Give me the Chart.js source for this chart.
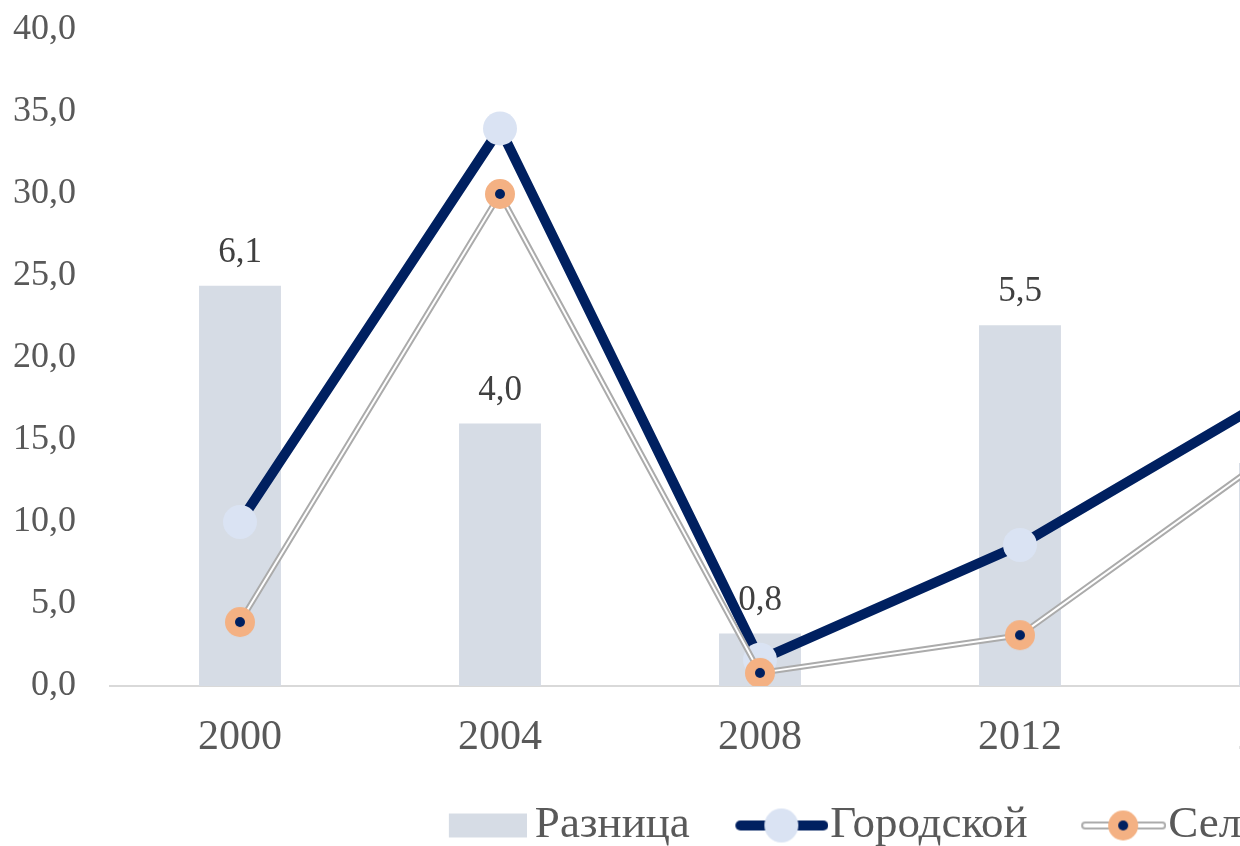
<!DOCTYPE html>
<html>
<head>
<meta charset="utf-8">
<script src="https://cdn.jsdelivr.net/npm/chart.js@4.4.1/dist/chart.umd.min.js"></script>
<style>
  html, body { margin: 0; padding: 0; background: #fff; }
  #wrap { width: 1240px; height: 846px; overflow: hidden; position: relative; }
  #c { position: absolute; left: 0; top: 0; }
</style>
</head>
<body>
<div id="wrap"><canvas id="c" width="1784" height="858"></canvas></div>
<script>
// data
const years = ['2000', '2004', '2008', '2012', '2016'];
const urban = [10.0, 34.0, 1.6, 8.6, 17.9];     // Городской
const rural = [3.9, 30.0, 0.8, 3.1, 14.5];      // Сельский
const diff = [6.1, 4.0, 0.8, 5.5, 3.4];         // Разница
const yTicks = [0, 5, 10, 15, 20, 25, 30, 35, 40];

const NAVY = '#002060', LIGHT = '#dae3f3', PEACH = '#f4b183', BAR = '#d6dce5', GREY = '#ababab';

Chart.defaults.font.family = '"Liberation Serif", "Times New Roman", serif';

function makeCanvas(w, h, draw) {
  const cv = document.createElement('canvas');
  cv.width = w; cv.height = h;
  draw(cv.getContext('2d'));
  return cv;
}

// orange marker with a navy dot in the middle
const ruralDot = makeCanvas(32, 32, (g) => {
  g.fillStyle = PEACH; g.beginPath(); g.arc(16, 16, 15, 0, Math.PI * 2); g.fill();
  g.fillStyle = NAVY; g.beginPath(); g.arc(16, 16, 5, 0, Math.PI * 2); g.fill();
});

// legend swatches (transparent margin on the left so the text sits close)
const legBar = makeCanvas(109, 26, (g) => { g.fillStyle = BAR; g.fillRect(31, 1, 78, 24); });
const legUrban = makeCanvas(121, 36, (g) => {
  g.strokeStyle = NAVY; g.lineWidth = 10; g.lineCap = 'round';
  g.beginPath(); g.moveTo(33, 18); g.lineTo(116, 18); g.stroke();
  g.fillStyle = LIGHT; g.beginPath(); g.arc(74, 18, 17, 0, Math.PI * 2); g.fill();
});
const legRural = makeCanvas(121, 32, (g) => {
  g.lineCap = 'round';
  g.strokeStyle = GREY; g.lineWidth = 8;
  g.beginPath(); g.moveTo(40, 16); g.lineTo(117, 16); g.stroke();
  g.strokeStyle = '#fff'; g.lineWidth = 4;
  g.beginPath(); g.moveTo(40, 16); g.lineTo(117, 16); g.stroke();
  g.drawImage(ruralDot, 78 - 16, 0);
});

const fmt = (v) => v.toFixed(1).replace('.', ',');

const barLabels = {
  id: 'barLabels',
  afterDatasetsDraw(chart) {
    const meta = chart.getDatasetMeta(4);
    const ctx = chart.ctx;
    ctx.save();
    ctx.font = '35px "Liberation Serif", serif';
    ctx.fillStyle = '#404040';
    ctx.textAlign = 'center';
    ctx.textBaseline = 'alphabetic';
    meta.data.forEach((el, i) => {
      ctx.fillText(fmt(diff[i]), el.x, el.y - 24);
    });
    ctx.restore();
  }
};

new Chart(document.getElementById('c'), {
  type: 'bar',
  data: {
    labels: years,
    datasets: [
      { type: 'line', label: 'Сельский', data: rural, showLine: false, yAxisID: 'y',
        pointStyle: ruralDot, pointRadius: 15 },
      { type: 'line', label: 'Сельский-inner', data: rural, yAxisID: 'y',
        borderColor: '#ffffff', borderWidth: 2, pointRadius: 0, borderJoinStyle: 'round' },
      { type: 'line', label: 'Сельский-outer', data: rural, yAxisID: 'y',
        borderColor: GREY, borderWidth: 6, pointRadius: 0, borderJoinStyle: 'round' },
      { type: 'line', label: 'Городской', data: urban, yAxisID: 'y',
        borderColor: NAVY, borderWidth: 10, pointStyle: 'circle', pointRadius: 17,
        pointBackgroundColor: LIGHT, pointBorderWidth: 0 },
      { type: 'bar', label: 'Разница', data: diff, yAxisID: 'y2',
        backgroundColor: BAR, categoryPercentage: 1, barPercentage: 0.315 }
    ]
  },
  options: {
    responsive: false,
    animation: false,
    events: [],
    layout: { padding: { top: 30, left: 0, right: 0, bottom: 0 } },
    scales: {
      x: {
        grid: { display: false },
        border: { display: true, color: '#d9d9d9', width: 2 },
        ticks: { color: '#595959', font: { size: 42 }, padding: 19 },
        afterFit: (s) => { s.height = 79; }
      },
      y: {
        position: 'left', min: 0, max: 40,
        grid: { display: false }, border: { display: false },
        afterBuildTicks: (s) => { s.ticks = yTicks.map((v) => ({ value: v })); },
        ticks: { color: '#595959', font: { size: 36 }, padding: 26, callback: (v) => fmt(v) },
        afterFit: (s) => { s.width = 110; s.paddingTop = 0; s.paddingBottom = 0; }
      },
      y2: {
        position: 'right', min: 0, max: 10,
        grid: { display: false }, border: { display: false },
        ticks: { display: false },
        afterFit: (s) => { s.width = 374; s.paddingTop = 0; s.paddingBottom = 0; }
      }
    },
    plugins: {
      tooltip: { enabled: false },
      legend: {
        position: 'bottom',
        labels: {
          usePointStyle: true,
          pointStyleWidth: 80,
          padding: 38,
          color: '#595959',
          font: { size: 45 },
          generateLabels: () => [
            { text: 'Разница', pointStyle: legBar, fillStyle: BAR, strokeStyle: BAR, lineWidth: 0, fontColor: '#595959', hidden: false, datasetIndex: 4 },
            { text: 'Городской', pointStyle: legUrban, fillStyle: LIGHT, strokeStyle: NAVY, lineWidth: 0, fontColor: '#595959', hidden: false, datasetIndex: 3 },
            { text: 'Сельский', pointStyle: legRural, fillStyle: PEACH, strokeStyle: GREY, lineWidth: 0, fontColor: '#595959', hidden: false, datasetIndex: 0 }
          ]
        }
      }
    }
  },
  plugins: [barLabels]
});
</script>
</body>
</html>
